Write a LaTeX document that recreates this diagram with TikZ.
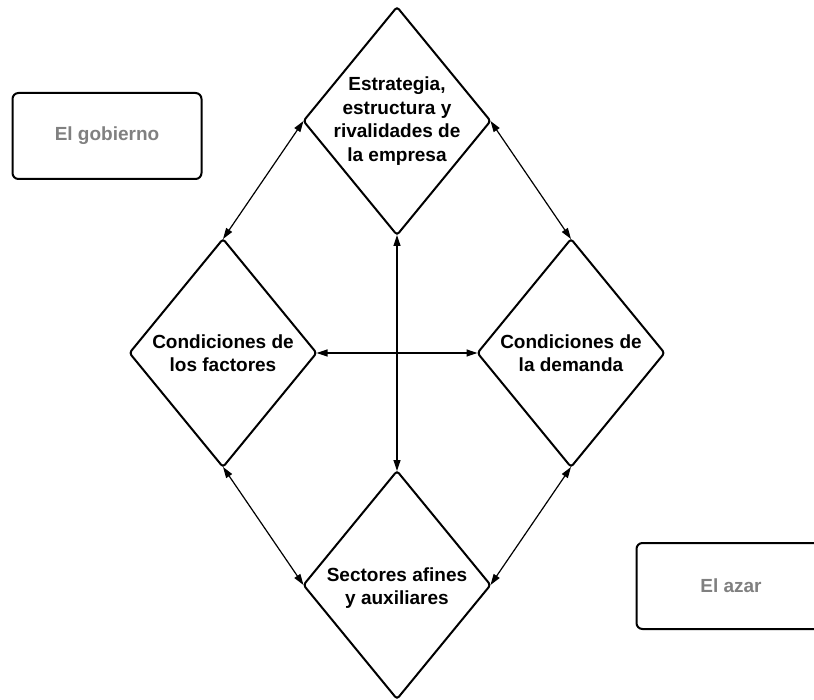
\documentclass[tikz,border=0pt]{standalone}
\usepackage{fontspec}
\setmainfont{Liberation Sans}
\usetikzlibrary{shapes.geometric,arrows.meta}
\begin{document}
\begin{tikzpicture}[x=1pt,y=-1pt,
  rombo/.style={diamond,draw=black,line width=2pt,rounded corners=3pt,
    minimum width=187pt,minimum height=228pt,inner sep=0pt,outer sep=0pt},
  rotulo/.style={align=center,font=\fontsize{19}{23.5}\selectfont\bfseries,inner sep=0pt},
  caja/.style={rectangle,draw=black,line width=2pt,rounded corners=6pt,
    minimum width=189pt,minimum height=86pt,outer sep=0pt,
    text=black!50,font=\fontsize{19}{23.5}\selectfont\bfseries},
  enlace/.style={{Triangle[length=11pt,width=7pt]}-{Triangle[length=11pt,width=7pt]},
    line width=1.2pt,draw=black}]
\useasboundingbox (0,0) rectangle (814,700);
\clip (0,0) rectangle (814,700);
\fill[white] (0,0) rectangle (814,700);

% the four determinants
\node[rombo] (est) at (397,121) {};
\node[rombo] (fac) at (223,353) {};
\node[rombo] (dem) at (571,353) {};
\node[rombo] (sec) at (397,585) {};

\node[rotulo] (est-t) at (est) {Estrategia,\\estructura y\\rivalidades de\\la empresa};
\node[rotulo] (fac-t) at (fac) {Condiciones de\\los factores};
\node[rotulo] (dem-t) at (dem) {Condiciones de\\la demanda};
\node[rotulo] (sec-t) at ([yshift=-3pt]sec.center) {Sectores afines\\y auxiliares};

% external variables
\node[caja] (gob) at (107,136) {El gobierno};
\node[caja] (azar) at (731,586) {El azar};

% links between determinants
\draw[enlace] (est.south) -- (sec.north);
\draw[enlace] (fac.east) -- (dem.west);
\draw[enlace] (est.west) -- (fac.north);
\draw[enlace] (est.east) -- (dem.north);
\draw[enlace] (fac.south) -- (sec.west);
\draw[enlace] (dem.south) -- (sec.east);
\end{tikzpicture}
\end{document}
